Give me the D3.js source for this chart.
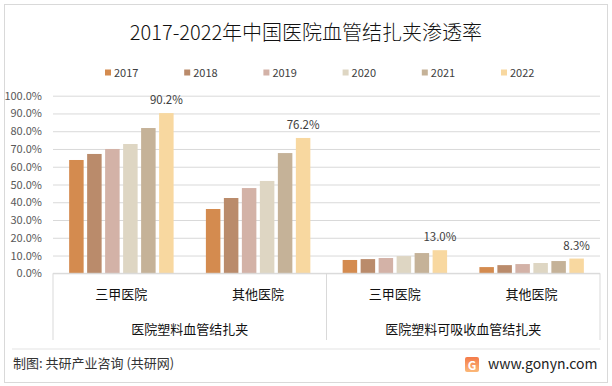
<!DOCTYPE html>
<html>
<head>
<meta charset="utf-8">
<script src="https://cdn.jsdelivr.net/npm/d3@7"></script>
<style>
  body { margin: 0; background: #fff; }
  svg { display: block; }
  text { font-family: "Noto Sans CJK SC", "Liberation Sans", sans-serif; }
</style>
</head>
<body>
<svg id="chart" width="612" height="386"></svg>
<script>
// datos
var years = ["2017", "2018", "2019", "2020", "2021", "2022"];
var colores = ["#D48B4F", "#BA8B6B", "#D3B2A7", "#DED6C3", "#C5B298", "#F8D8A0"];
var grupos = ["医院塑料血管结扎夹", "医院塑料可吸收血管结扎夹"];
var hospitales = ["三甲医院", "其他医院"];
var plastico3A = [63.8, 67.2, 70.0, 72.8, 81.8, 90.2];
var plasticoOtros = [36.2, 42.4, 48.0, 52.0, 67.7, 76.2];
var absorbible3A = [7.5, 8.0, 8.6, 9.7, 11.4, 13.0];
var absorbibleOtros = [3.5, 4.6, 5.2, 5.8, 6.9, 8.3];
var yTicks = [0, 10, 20, 30, 40, 50, 60, 70, 80, 90, 100];

var categorias = [
  {grupo: grupos[0], hosp: hospitales[0], valores: plastico3A},
  {grupo: grupos[0], hosp: hospitales[1], valores: plasticoOtros},
  {grupo: grupos[1], hosp: hospitales[0], valores: absorbible3A},
  {grupo: grupos[1], hosp: hospitales[1], valores: absorbibleOtros}
];

var svg = d3.select("#chart");
var pLeft = 53, pRight = 600, pTop = 95.7, pBottom = 273.3;

// marco
svg.append("rect").attr("x", 4.5).attr("y", 4.5).attr("width", 603).attr("height", 378)
  .attr("fill", "#fff").attr("stroke", "#d9d9d9");

svg.append("text").attr("x", 306).attr("y", 40).attr("text-anchor", "middle")
  .attr("font-size", 20).attr("font-weight", 300).attr("fill", "#111")
  .text("2017-2022年中国医院血管结扎夹渗透率");

// leyenda
var leyenda = svg.append("g");
years.forEach(function(yr, i){
  var lx = 105 + i * 79.2;
  leyenda.append("rect").attr("x", lx).attr("y", 69.5).attr("width", 6).attr("height", 6)
    .attr("fill", colores[i]);
  leyenda.append("text").attr("x", lx + 9).attr("y", 76.5).attr("font-size", 11)
    .attr("font-family", "Liberation Sans").attr("fill", "#404040").text(yr);
});

var y = d3.scaleLinear().domain([0, 100]).range([pBottom, pTop]);
var x0 = d3.scaleBand().domain(d3.range(categorias.length)).range([pLeft, pRight]).padding(0);
var x1 = d3.scaleBand().domain(years).range([0, x0.bandwidth()])
  .paddingInner(0.194).paddingOuter(0.897);

// grilla
var eje = d3.axisLeft(y).tickValues(yTicks).tickSize(-(pRight - pLeft))
  .tickFormat(function(d){ return d3.format(".1f")(d) + "%"; });
var gEje = svg.append("g").attr("transform", "translate(" + pLeft + ",0)").call(eje);
gEje.select(".domain").remove();
gEje.selectAll(".tick line").attr("stroke", "#d9d9d9");
gEje.selectAll(".tick text").attr("x", -11).attr("font-size", 11)
  .attr("font-family", "Liberation Sans").attr("fill", "#595959");

// barras
var gCat = svg.selectAll(".cat").data(categorias).enter().append("g")
  .attr("class", "cat")
  .attr("transform", function(d, i){ return "translate(" + x0(i) + ",0)"; });

gCat.selectAll("rect").data(function(d){
    return d.valores.map(function(v, j){ return {year: years[j], v: v, j: j}; });
  }).enter().append("rect")
  .attr("x", function(d){ return x1(d.year); })
  .attr("width", x1.bandwidth())
  .attr("y", function(d){ return y(d.v); })
  .attr("height", function(d){ return y(0) - y(d.v); })
  .attr("fill", function(d){ return colores[d.j]; });

gCat.append("text")
  .attr("x", function(d){ return x1(years[5]) + x1.bandwidth() / 2; })
  .attr("y", function(d){ return y(d.valores[5]) - 9; })
  .attr("text-anchor", "middle").attr("font-size", 11.5)
  .attr("font-family", "Liberation Sans").attr("fill", "#404040")
  .text(function(d){ return d3.format(".1f")(d.valores[5]) + "%"; });

// eje x
svg.append("line").attr("x1", pLeft).attr("x2", pRight).attr("y1", pBottom).attr("y2", pBottom)
  .attr("stroke", "#d9d9d9");
[pLeft, x0(2), pRight].forEach(function(px){
  svg.append("line").attr("x1", px).attr("x2", px).attr("y1", pBottom).attr("y2", 340)
    .attr("stroke", "#d9d9d9");
});

gCat.append("text")
  .attr("x", x0.bandwidth() / 2).attr("y", 299)
  .attr("text-anchor", "middle").attr("font-size", 13).attr("fill", "#111")
  .text(function(d){ return d.hosp; });

grupos.forEach(function(g, i){
  svg.append("text")
    .attr("x", x0(i * 2) + x0.bandwidth())
    .attr("y", 334).attr("text-anchor", "middle").attr("font-size", 13).attr("fill", "#111")
    .text(g);
});

// pie
svg.append("line").attr("x1", 12).attr("x2", 600).attr("y1", 349).attr("y2", 349)
  .attr("stroke", "#e3e3e3");
svg.append("text").attr("x", 13).attr("y", 368).attr("font-size", 13).attr("fill", "#333")
  .text("制图: 共研产业咨询 (共研网)");

var grad = svg.append("defs").append("linearGradient").attr("id", "logoGrad")
  .attr("x1", 0).attr("y1", 0).attr("x2", 0).attr("y2", 1);
grad.append("stop").attr("offset", "0%").attr("stop-color", "#F47B4A");
grad.append("stop").attr("offset", "100%").attr("stop-color", "#FBB878");
svg.append("rect").attr("x", 465).attr("y", 357).attr("width", 14).attr("height", 15)
  .attr("rx", 2).attr("fill", "url(#logoGrad)");
svg.append("text").attr("x", 472).attr("y", 369.5).attr("text-anchor", "middle")
  .attr("font-size", 12).attr("font-weight", "bold").attr("font-family", "Liberation Sans")
  .attr("fill", "#fff").text("G");
svg.append("text").attr("x", 488).attr("y", 369).attr("font-size", 14)
  .attr("font-family", "Liberation Sans").attr("fill", "#222").text("www.gonyn.com");
</script>
</body>
</html>
